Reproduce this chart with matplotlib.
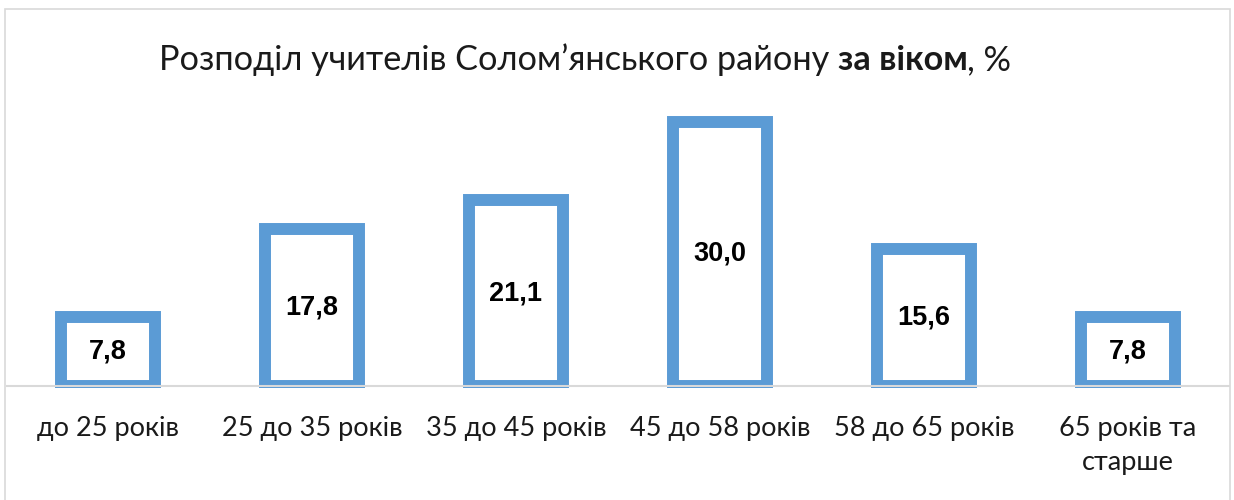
import matplotlib.pyplot as plt
from matplotlib.patches import Rectangle

# age groups and share of teachers, %
categories = ["до 25 років", "25 до 35 років", "35 до 45 років",
              "45 до 58 років", "58 до 65 років", "65 років та\nстарше"]
shares = [7.8, 17.8, 21.1, 30.0, 15.6, 7.8]

BLUE = "#5B9BD5"
GRID = "#D9D9D9"
TEXT_FONT = ["Lato", "DejaVu Sans"]

fig = plt.figure(figsize=(12.34, 5), dpi=100)
ax = fig.add_axes([6 / 1234, 112 / 500, 1224 / 1234, 310 / 500])

x = list(range(len(categories)))
ax.bar(x, shares, width=0.46, facecolor="white", edgecolor=BLUE,
       linewidth=8.6, zorder=2, clip_on=True)

for xi, v in zip(x, shares):
    ax.text(xi, v / 2, f"{v:.1f}".replace(".", ","), ha="center", va="center",
            fontsize=19.5, fontweight="bold", family="Liberation Sans",
            zorder=3)

ax.set_xlim(-0.5, len(categories) - 0.5)
ax.set_ylim(-0.25, 35)
ax.axhline(0, color=GRID, linewidth=1.5, zorder=3)
ax.set_yticks([])
ax.set_xticks(x)
ax.set_xticklabels(categories, fontsize=19.5, family=TEXT_FONT,
                   color="#1a1a1a", linespacing=1.45)
ax.tick_params(axis="x", length=0, pad=20)
for side in ax.spines.values():
    side.set_visible(False)

# outer frame of the chart area
fig.patches.append(Rectangle((4.5 / 1234, -0.1), 1225 / 1234, 1.1 - 9 / 500,
                             transform=fig.transFigure, fill=False,
                             edgecolor=GRID, linewidth=1.2))

# title: plain text with a bold fragment in the middle
parts = [("Розподіл учителів Солом’янського району ", "normal"),
         ("за віком", "bold"),
         (", %", "normal")]
renderer = fig.canvas.get_renderer()
texts = [fig.text(0, 1 - 60 / 500, s, fontsize=24.7, fontweight=w,
                  family=TEXT_FONT, va="center", ha="left", color="#1a1a1a")
         for s, w in parts]
widths = [t.get_window_extent(renderer).width for t in texts]
pos = 585 - sum(widths) / 2
for t, w in zip(texts, widths):
    t.set_x(pos / 1234)
    pos += w

fig.savefig("out.png", dpi=100)
